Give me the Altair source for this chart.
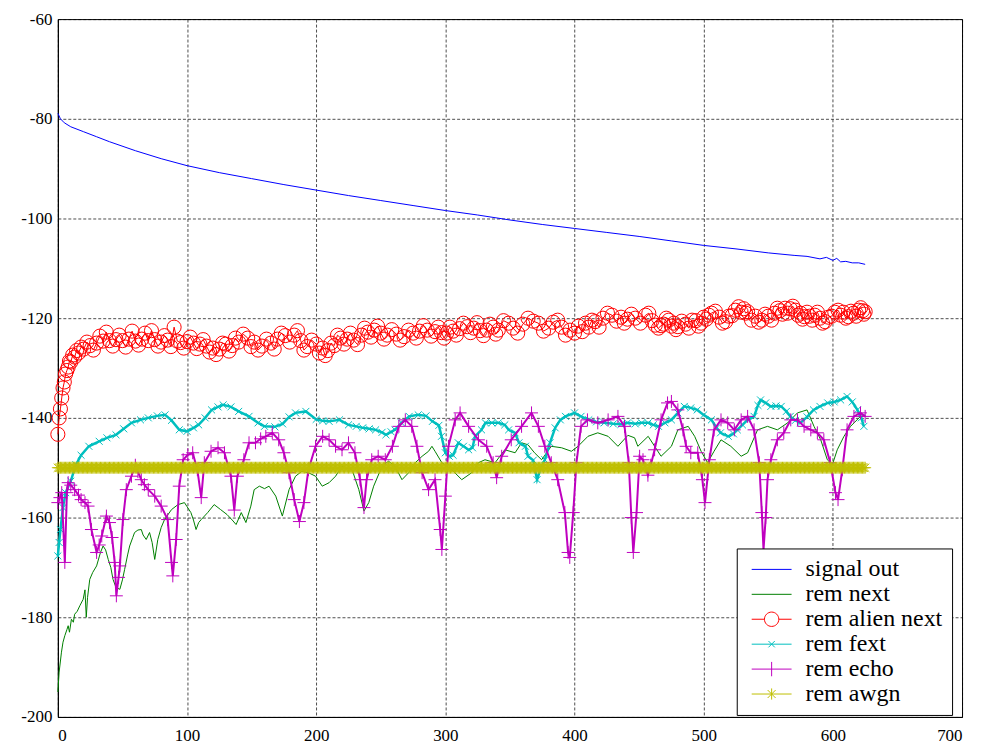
import altair as alt
import pandas as pd

# ---------------- data ----------------
x_ticks = [0, 100, 200, 300, 400, 500, 600, 700]
y_ticks = [-200, -180, -160, -140, -120, -100, -80, -60]

series_names = ["signal out", "rem next", "rem alien next", "rem fext", "rem echo", "rem awgn"]
series_colors = ["#0000ff", "#008000", "#ff0000", "#00bfbf", "#bf00bf", "#bfbf00"]

signal_x = [0, 2, 5, 10, 20, 30, 40, 60, 80, 100, 125, 150, 175, 200, 225, 250, 275, 300,
            325, 350, 375, 400, 425, 450, 475, 500, 525, 550, 570, 580, 590, 595, 600, 603,
            606, 610, 615, 620, 625]
signal_db = [-78.9, -80.0, -80.8, -81.6, -82.6, -83.6, -84.6, -86.4, -88.0, -89.4, -90.8, -92.0,
             -93.2, -94.3, -95.4, -96.4, -97.4, -98.4, -99.3, -100.3, -101.2, -102.0, -102.8,
             -103.6, -104.5, -105.4, -106.1, -106.9, -107.4, -107.6, -108.1, -107.8, -108.4,
             -108.0, -108.7, -108.6, -108.9, -108.9, -109.2]

next_x = [0, 1, 2.8, 4, 5.4, 7, 8, 9, 10.5, 12, 13, 15, 17, 19.6, 21, 22, 23, 24.7, 27, 30, 33,
          35, 37, 39, 41, 42.7, 45, 48, 50, 51.7, 54, 55.6, 58, 59.4, 62, 64.6, 66, 68.4, 71, 73,
          75, 77.4, 80, 82.6, 85, 88, 93, 98, 100, 103, 105, 107, 109, 111, 116, 121, 126, 131,
          135, 138, 142, 145.6, 149.4, 152, 156, 160, 163.5, 168.7, 173.8, 179, 184, 189, 194,
          199.5, 204.7, 210, 215, 220, 227.8, 233, 237, 240.7, 244.5, 251, 256, 261, 266.4,
          271.6, 276.7, 282, 287, 289.6, 292, 297.3, 305, 312.7, 320.4, 325.6, 330.7, 338.5,
          346, 354, 359, 364, 369, 374.5, 382, 390, 397.6, 402.7, 410.4, 418, 426, 433.6, 441.3,
          446.5, 449, 457, 462, 467, 475, 480, 488, 493, 498, 503, 508, 513.4, 521, 529, 534,
          541.7, 549.4, 557, 565, 572.6, 580, 585.4, 590.6, 595.7, 599.6, 603.4, 608.6, 613.7,
          621.4, 625]
next_db = [-195, -191, -187, -185, -183.7, -182.5, -181.7, -183, -180.4, -181, -179.4, -178.8,
           -177.7, -176.4, -174.5, -180, -176, -172.4, -171, -169.7, -167, -165.7, -166.5,
           -168.4, -170, -172.4, -174, -174.4, -172.5, -170.4, -167.5, -165.7, -164, -163,
           -162.5, -162.4, -163.5, -164.4, -163, -165, -168.4, -164.4, -162, -160.4, -159.5,
           -158.4, -157.4, -157, -157.8, -159, -160.5, -162.4, -161, -160.4, -159, -157.4,
           -158.4, -159.4, -160.5, -161.4, -159, -161, -157.7, -154.4, -153.7, -154.2, -153.7,
           -155.7, -159.7, -154.4, -151.7, -150.7, -151, -151.7, -153.7, -153, -151.7, -149.7,
           -150.4, -154.4, -158.7, -157, -153.7, -149.7, -148.7, -149.7, -152.4, -151, -149,
           -147.7, -146.7, -145.7, -146.7, -149, -150.4, -152.4, -151, -149, -148.4, -149,
           -146.4, -147, -145, -145.4, -147, -148.4, -145.7, -146, -146.7, -145.7, -143.7,
           -143, -143.7, -145.7, -143.5, -144, -145.7, -143.7, -145.7, -147.7, -145.7, -142.4,
           -141.7, -143.7, -146.7, -149, -146.7, -144.4, -145.7, -147.7, -147, -142.4, -141.7,
           -142.4, -141, -139, -138.4, -141.7, -144.4, -148.4, -149.4, -146.4, -143.7, -141.7,
           -139.7, -139.5]

alien_x = [0, 1, 2, 3, 4, 5, 6, 7, 8, 9, 10, 11.5, 13, 14.5, 16, 18, 20, 22.5, 25, 27.5, 30,
           32.5, 35, 37.5, 40, 42.5, 45, 47.5, 50, 52.5, 55, 57.5, 60, 62.5, 65, 67.5, 70, 72.5,
           75, 77.5, 80, 82.5, 85, 87.5, 90, 92.5, 95, 97.5, 100, 102.5, 105, 107.5, 110, 112.5,
           115, 117.5, 120, 122.5, 125, 127.5, 130, 132.5, 135, 137.5, 140, 143.5, 147, 149.5,
           152, 155, 158, 161.5, 165, 167.5, 170, 173, 176, 179.5, 183, 185.5, 188, 190.5, 193,
           196.5, 200, 202.5, 205, 207, 209, 211.5, 214, 216.5, 219, 221.5, 224, 226.5, 229,
           232, 235, 237.5, 240, 242.5, 245, 247.5, 250, 252.5, 255, 258.5, 262, 265, 268,
           271.5, 275, 277.5, 280, 283, 286, 289, 292, 294.5, 297, 299, 301, 303.5, 306, 308.5,
           311, 314, 317, 319.5, 322, 324.5, 327, 329.5, 332, 334.5, 337, 339, 341, 345, 349,
           352.5, 356, 360, 364, 368, 372, 376, 380, 383.5, 387, 390, 393, 396.5, 400, 403, 406,
           408.5, 411, 413.5, 416, 419, 422, 425.5, 429, 432.5, 436, 438.5, 441, 444, 447, 451,
           455, 457.5, 460, 462.5, 465, 467, 469, 471, 473, 475, 477, 478.5, 480, 483, 486,
           488.5, 491, 494, 496, 498, 500, 502, 504, 506, 509, 512, 514.5, 517, 519.5, 522,
           524.5, 527, 529, 531, 532.5, 534, 537, 540, 542.5, 545, 547.5, 550, 552.5, 555, 557,
           559, 561, 563, 565, 567, 569, 571, 573, 575, 576.5, 578, 580, 582, 584, 586, 588,
           590, 592, 594, 596.5, 599, 601.5, 604, 606, 608, 610, 612, 614, 616, 618, 620, 621.5,
           623, 624, 625]
alien_db = [-143.3, -140, -138.2, -136, -134, -132.8, -131.2, -130.5, -129.8, -128.6, -128.8,
            -127.4, -127.8, -126.5, -127, -125.8, -126.2, -124.8, -125.5, -126.4, -125, -123.6,
            -124.6, -122.8, -124.5, -125.6, -124.3, -123.4, -124.5, -125.8, -124.2, -122.6,
            -124.6, -125.4, -124.2, -123, -124.5, -122.5, -124.3, -125.6, -124.8, -123.5,
            -124.4, -125.7, -121.8, -124.6, -124.9, -126, -124.7, -123.8, -125, -126.1, -125.2,
            -124.3, -125.6, -126.8, -126, -127.3, -126.2, -125, -125.2, -126.6, -125.5, -124,
            -124.8, -123.2, -124, -125.7, -124.8, -126.4, -125.6, -124.2, -125, -126.2, -124.2,
            -123, -123.5, -124.8, -123.4, -122.5, -124.5, -126.4, -125.7, -124.4, -125.2, -127,
            -126, -127.5, -126.5, -125, -125.5, -123.4, -124, -125.2, -124.2, -123, -124.4,
            -125.3, -123.4, -122, -122.8, -123.8, -122.4, -121.6, -123, -124.2, -123.4, -122.3,
            -123.2, -124.4, -123.7, -122.4, -123, -124, -122.6, -121.5, -122.4, -123.6, -122.7,
            -121.8, -122.9, -124, -123, -121.8, -122.6, -123.4, -122.1, -121, -121.7, -122.9,
            -122, -120.9, -122.5, -123.5, -122.4, -121.2, -121.8, -123.2, -122.4, -120.5, -121,
            -122, -123, -121.2, -120, -120.6, -121, -122.6, -122, -120.8, -120.4, -121.8, -123.4,
            -122.4, -123, -121.6, -122.7, -121, -121.8, -120.4, -120.7, -121.8, -120, -119,
            -119.4, -120.6, -119.8, -121, -120.2, -119.2, -120, -121, -119.4, -119, -120.5,
            -121.4, -122, -121.5, -121.2, -120, -120.4, -121.6, -121, -122.3, -121.7, -120.6,
            -121.2, -122, -120.4, -120.5, -121.6, -121, -119.8, -120.2, -119.4, -119, -118.6,
            -119.8, -121, -120.7, -119.6, -119.5, -118.4, -117.7, -118.8, -118.1, -119, -118.7,
            -120.4, -119.6, -120.8, -120.4, -119.2, -119.6, -120.4, -119, -118, -118.5, -119.2,
            -118, -119, -118.1, -117.6, -118.4, -119.4, -119, -120.2, -119.7, -118.8, -119.6,
            -120.4, -119.4, -118.8, -120, -121, -120.7, -119.8, -119.6, -118.8, -118.4, -119.4,
            -118.8, -120, -119.7, -118.6, -119, -119.6, -118.4, -117.9, -118.5, -119.2, -118.7]

fext_x = [0, 1, 2, 4, 6, 10, 14, 18, 24, 32, 38, 45, 51, 57, 64, 70, 77, 83, 88, 94, 100, 105,
          109, 114, 119, 124, 128, 134, 140, 148, 155, 160, 168, 174, 179, 184, 192, 200, 205,
          210, 218, 225, 231, 236, 241, 246, 251, 254, 258, 261, 266, 272, 279, 285, 290, 295,
          297, 300, 303, 306, 310, 314, 318, 321, 323, 328, 331, 336, 341, 346, 349, 354, 357,
          362, 364, 368, 371, 374, 377, 381, 385, 389, 393, 400, 405, 411, 417, 423, 430, 436,
          441, 447, 452, 457, 461, 465, 470, 475, 480, 485, 490, 495, 500, 506, 510, 513, 519,
          523, 526, 530, 534, 539, 542, 544, 548, 552, 556, 560, 564, 567, 571, 575, 580, 585,
          590, 596, 601, 606, 611, 615, 619, 622, 624]
fext_db = [-167.7, -165, -162.4, -158, -155, -152.7, -149.4, -147.5, -145.7, -144.7, -144,
           -143.4, -142.2, -141, -140.4, -140, -139.6, -139.4, -140.5, -142.4, -142.7, -142,
           -141.4, -140, -138.4, -137.8, -137.4, -137.8, -138.7, -139.7, -141, -141.7, -141.8,
           -141.2, -139.8, -139, -138.7, -140.3, -140.6, -140.7, -140.4, -141.4, -141.7, -142,
           -142.2, -142.4, -142.9, -143.4, -142.8, -142.4, -141, -139.7, -139.4, -139.6, -140.7,
           -141.5, -143.7, -147, -147.7, -147.5, -145, -145.7, -146.4, -146, -143.7, -142.4,
           -141, -141, -141, -141.4, -142.4, -143, -145, -145.7, -147.7, -148.5, -152.4, -150,
           -148.4, -145, -142, -140.4, -139.7, -139, -139.7, -140.4, -140.8, -141, -141.2,
           -141.3, -141, -141.2, -141, -141, -141.4, -141.7, -141, -140.4, -139, -137.7, -138,
           -138.4, -139.4, -140.4, -142, -143, -143.7, -143.2, -142.4, -141.4, -140.4, -139.7,
           -137.5, -136.4, -137, -137.7, -137.6, -137.7, -138.7, -139.7, -140.5, -141, -139.8,
           -138.4, -137.7, -137, -136.8, -136.4, -135.7, -136.8, -138.4, -140, -141.7]

echo_x = [0, 1.6, 3, 5.4, 7, 8, 10, 13, 16, 18, 21, 23.4, 26, 30, 32, 34, 37.6, 40, 42, 44,
          45.3, 47, 48, 50.4, 53, 57, 60, 62, 64.6, 67, 70, 75, 80, 85, 88, 89, 91.6, 94, 97,
          100.6, 104.4, 108, 111, 113.4, 118.6, 124, 129, 134, 136.6, 139, 144, 148, 153, 157,
          161, 166, 171, 175, 179, 183, 187, 190.5, 194, 199.5, 205, 210, 215, 220, 225, 230,
          234, 237, 239, 243, 248, 253.5, 259, 264, 269, 274, 278, 282, 287, 292, 296, 297.3,
          300, 302.4, 307.6, 311.4, 318, 325.6, 332, 337, 339.7, 343.6, 351, 359, 366.7, 372,
          377, 382, 387, 392.5, 395, 396.3, 399, 401.5, 405, 410, 418, 426, 433.6, 438.7, 442,
          444, 445.5, 448, 450.4, 453, 456.8, 459, 462, 467, 472, 475, 480, 484, 486.4, 490,
          495.4, 499, 501, 504.4, 508, 513.4, 518.6, 523.7, 529, 534, 539, 543, 545, 546.3,
          548, 549.4, 552, 557, 562, 567.4, 572.6, 577.7, 582.9, 588, 593, 598, 602, 604,
          607.3, 611, 616.3, 621.4, 625]
echo_db = [-157, -156, -155, -169, -155, -153, -153.5, -154.4, -155.5, -156.4, -157, -157.7,
           -162.4, -167, -165.5, -163.7, -159.7, -161, -164, -169, -175.7, -172, -169.7, -160.4,
           -154.4, -151.7, -149.5, -150.8, -152.4, -153.4, -154.4, -155.7, -157.7, -160.4, -169,
           -171.7, -164.4, -153.7, -148.4, -147.4, -147, -150.4, -156, -149, -146.7, -146, -147,
           -151.7, -158.5, -151.7, -148.4, -145, -145, -144.2, -143.7, -143, -144.4, -147, -151,
           -156.4, -160.8, -157, -150.4, -145.7, -143.7, -144.4, -145.7, -146.4, -145, -147,
           -152.4, -158, -152.4, -148.4, -147.7, -148.4, -145.7, -141.7, -140.4, -141.7, -145.7,
           -151, -154.4, -152.4, -162.4, -166.4, -155.7, -145.7, -140.4, -139, -141.7, -144.4,
           -145.7, -149, -152, -147.7, -144.4, -141.7, -139, -141.7, -145.7, -149, -152.4, -159,
           -167, -168, -159, -149, -141.7, -140.4, -141, -140.4, -139.7, -141.7, -149, -160,
           -167, -159, -147.7, -148.4, -151.5, -149.5, -146.4, -140.4, -137, -136.7, -138.4,
           -142.4, -145.7, -147, -147, -152.4, -157, -148.4, -142.4, -140.4, -141, -142.4,
           -140.4, -139.7, -142.4, -149, -159, -166.5, -160, -152.4, -148.4, -144.4, -143,
           -140.4, -140.4, -141.7, -142.4, -143, -144.4, -149, -155, -156.4, -150.4, -142.4,
           -139.7, -139, -139.7]

# awgn floor: a flat reading of -150 dB at every sample index shown
awgn_x = list(range(0, 626))
awgn_db = [-150.0] * len(awgn_x)

# ---------------- marker shapes (SVG paths, unit box) ----------------
PLUS = "M-1,0L1,0M0,-1L0,1"
XMARK = "M-1,-1L1,1M1,-1L-1,1"
STAR = "M-1,0L1,0M0,-1L0,1M-0.7,-0.7L0.7,0.7M0.7,-0.7L-0.7,0.7"

legend_paths = [
    "M-2.5,0L2.5,0",
    "M-2.5,0L2.5,0",
    "M-2.5,0L-0.9,0M0.9,0L2.5,0M-0.9,0A0.9,0.9 0 1,1 0.9,0A0.9,0.9 0 1,1 -0.9,0",
    "M-2.5,0L2.5,0M-0.4,-0.4L0.4,0.4M0.4,-0.4L-0.4,0.4",
    "M-2.5,0L2.5,0M0,-0.9L0,0.9",
    "M-2.5,0L2.5,0M0,-0.7L0,0.7M-0.5,-0.5L0.5,0.5M0.5,-0.5L-0.5,0.5",
]

FONT = "'Liberation Serif', 'Times New Roman', Times, serif"
LABEL_EXPR = "datum.value + ''"


def frame(xs, ys, name):
    return pd.DataFrame({"x": xs, "db": ys, "series": name})


X = alt.X("x:Q", title=None,
          scale=alt.Scale(domain=[0, 700], nice=False, zero=False),
          axis=alt.Axis(values=x_ticks, labelExpr=LABEL_EXPR, grid=True, ticks=False, tickSize=0,
                        labelPadding=11, domain=True, labelFont=FONT, labelFontSize=17,
                        labelColor="black"))
Y = alt.Y("db:Q", title=None,
          scale=alt.Scale(domain=[-200, -60], nice=False, zero=False),
          axis=alt.Axis(values=y_ticks, labelExpr=LABEL_EXPR, grid=True, ticks=False, tickSize=0,
                        labelPadding=6, domain=True, labelFont=FONT, labelFontSize=17,
                        labelColor="black"))

df_signal = frame(signal_x, signal_db, "signal out")
df_next = frame(next_x, next_db, "rem next")
df_alien = frame(alien_x, alien_db, "rem alien next")
df_fext = frame(fext_x, fext_db, "rem fext")
df_echo = frame(echo_x, echo_db, "rem echo")
df_awgn = frame(awgn_x, awgn_db, "rem awgn")

layers = []
layers.append(alt.Chart(df_signal).mark_line(color=series_colors[0], strokeWidth=1).encode(x=X, y=Y))
layers.append(alt.Chart(df_next).mark_line(color=series_colors[1], strokeWidth=1).encode(x=X, y=Y))
layers.append(alt.Chart(df_alien).mark_line(color=series_colors[2], strokeWidth=1).encode(x=X, y=Y))
layers.append(alt.Chart(df_alien).mark_point(shape="circle", size=200, filled=False,
                                             color=series_colors[2], strokeWidth=1, opacity=1).encode(x=X, y=Y))
layers.append(alt.Chart(df_fext).mark_line(color=series_colors[3], strokeWidth=2.5).encode(x=X, y=Y))
layers.append(alt.Chart(df_fext).mark_point(shape=XMARK, size=49, filled=False,
                                            color=series_colors[3], strokeWidth=1, opacity=1).encode(x=X, y=Y))
layers.append(alt.Chart(df_echo).mark_line(color=series_colors[4], strokeWidth=2).encode(x=X, y=Y))
layers.append(alt.Chart(df_echo).mark_point(shape=PLUS, size=169, filled=False,
                                            color=series_colors[4], strokeWidth=1, opacity=1).encode(x=X, y=Y))
layers.append(alt.Chart(df_awgn).mark_line(color=series_colors[5], strokeWidth=1).encode(x=X, y=Y))
layers.append(alt.Chart(df_awgn).mark_point(shape=STAR, size=144, filled=False,
                                            color=series_colors[5], strokeWidth=1, opacity=1).encode(x=X, y=Y))

# invisible layer that only drives the legend (line + marker samples)
df_leg = pd.DataFrame({
    "series": series_names,
    "x": [signal_x[0], next_x[0], alien_x[0], fext_x[0], echo_x[0], awgn_x[0]],
    "db": [signal_db[0], next_db[0], alien_db[0], fext_db[0], echo_db[0], awgn_db[0]],
})
leg = alt.Legend(title=None, orient="none", legendX=681, legendY=531,
                 fillColor="white", strokeColor="black", padding=9,
                 symbolSize=256, symbolStrokeWidth=1, symbolOpacity=1,
                 symbolFillColor="transparent",
                 labelFont=FONT, labelFontSize=24, labelColor="black",
                 labelOffset=22, rowPadding=1, symbolOffset=14)
layers.append(
    alt.Chart(df_leg).mark_point(opacity=0, filled=False).encode(
        x=X, y=Y,
        color=alt.Color("series:N", scale=alt.Scale(domain=series_names, range=series_colors), legend=leg),
        shape=alt.Shape("series:N", scale=alt.Scale(domain=series_names, range=legend_paths), legend=leg),
    )
)

chart = alt.layer(*layers).properties(
    width=907, height=700,
    autosize=alt.AutoSizeParams(type="none"),
    padding={"left": 50, "top": 10, "right": 14, "bottom": 28},
    background="white",
).configure_view(
    stroke="black", strokeWidth=1
).configure_axis(
    labelFont=FONT, labelFontSize=17, labelColor="black",
    domainColor="black", domainWidth=1,
    gridColor="black", gridOpacity=1, gridDash=[3, 2], gridWidth=0.7,
)

chart.save("out.html", embed_options={"renderer": "svg", "actions": False})
